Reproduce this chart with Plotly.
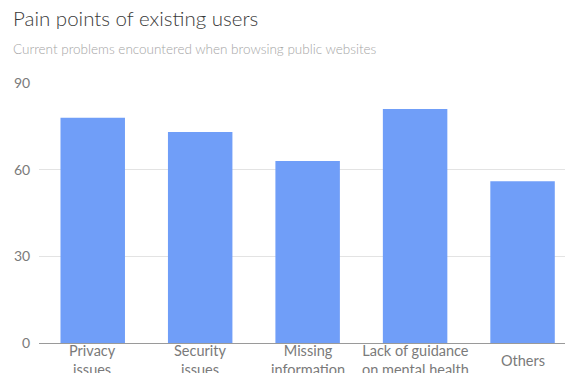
import plotly.graph_objects as go

categories = ["Privacy issues", "Security issues", "Missing information",
              "Lack of guidance on mental health", "Others"]
tick_labels = ["Privacy<br>issues", "Security<br>issues", "Missing<br>information",
               "Lack of guidance<br>on mental health", "Others"]
values = [78, 73, 63, 81, 56]
y_ticks = [0, 30, 60, 90]

title = "Pain points of existing users"
subtitle = "Current problems encountered when browsing public websites"

FONT = "Lato"
fig = go.Figure(go.Bar(x=categories, y=values, marker=dict(color="#709ef8", line=dict(width=0)),
                       width=0.6))

W, H = 565, 373
L, R, T, B = 39, 0, 83, 30
ph = H - T - B

fig.update_layout(
    width=W, height=H, margin=dict(l=L, r=R, t=T, b=B),
    paper_bgcolor="white", plot_bgcolor="white",
    showlegend=False,
    font=dict(family=FONT, color="#777"),
    xaxis=dict(range=[-0.5, 4.395], showticklabels=False, showgrid=False,
               showline=True, linecolor="#9a9a9a", linewidth=1, zeroline=False, fixedrange=True),
    yaxis=dict(range=[0, 90], tickvals=y_ticks, showgrid=True, gridcolor="#e3e3e3", gridwidth=1,
               zeroline=False, showline=False, ticks="outside", ticklen=5, tickcolor="rgba(0,0,0,0)",
               tickfont=dict(size=14, color="#7a7a7a", family=FONT)),
)

annotations = [
    dict(text=title, xref="paper", yref="paper", x=(11 - L) / (W - L - R), y=(T + ph - 18) / ph,
         xanchor="left", yanchor="middle", showarrow=False,
         font=dict(size=20.5, color="#3a3a3a", family=FONT, weight=300)),
    dict(text=subtitle, xref="paper", yref="paper", x=(11 - L) / (W - L - R), y=(T + ph - 49) / ph,
         xanchor="left", yanchor="middle", showarrow=False,
         font=dict(size=13.5, color="#a5a5a5", family=FONT, weight=300)),
]
for c, t in zip(categories, tick_labels):
    annotations.append(dict(text=t, x=c, xref="x", y=0, yref="y", yanchor="middle",
                            yshift=-17, showarrow=False, align="center",
                            font=dict(size=14.5, color="#7a7a7a", family=FONT)))
fig.update_layout(annotations=annotations)

fig.write_html("out.html")
